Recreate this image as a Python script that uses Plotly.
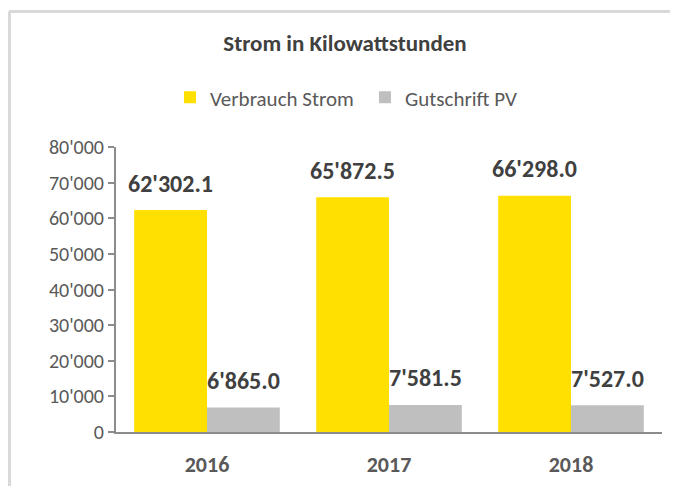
import plotly.graph_objects as go

years = ["2016", "2017", "2018"]
verbrauch = [62302.1, 65872.5, 66298.0]
gutschrift = [6865.0, 7581.5, 7527.0]
series_names = ["Verbrauch Strom", "Gutschrift PV"]
title = "Strom in Kilowattstunden"

FONT = "Carlito, Lato, sans-serif"
YELLOW = "#FFE000"
GRAY = "#BFBFBF"

# figure sized to fit the page without scrollbars (the page body has an 8px margin)
W, H = 662, 478
L, R, T, B = 108, 8, 139, 50
PW, PH = W - L - R, H - T - B

fig = go.Figure()
fig.add_trace(go.Bar(x=years, y=verbrauch, name=series_names[0], marker_color=YELLOW, marker_line_width=0))
fig.add_trace(go.Bar(x=years, y=gutschrift, name=series_names[1], marker_color=GRAY, marker_line_width=0))

def fmt(v):
    return f"{v:,.1f}".replace(",", "'")

annotations = []
for vals, xs in ((verbrauch, -0.2), (gutschrift, 0.2)):
    for i, v in enumerate(vals):
        annotations.append(dict(x=i + xs, y=v, xref="x", yref="y", text=fmt(v), showarrow=False,
                                yshift=27, yanchor="middle",
                                font=dict(family=FONT, size=24, color="#404040", weight="bold")))

fig.update_layout(
    width=W, height=H,
    margin=dict(l=L, r=R, t=T, b=B),
    paper_bgcolor="white", plot_bgcolor="white",
    separators=".'",
    barmode="group", bargap=0.2, bargroupgap=0,
    title=dict(text="<b>" + title + "</b>", x=337 / W, xanchor="center", y=1 - 35 / H, yanchor="middle",
               font=dict(family=FONT, size=23, color="#404040")),
    legend=dict(orientation="h", x=0.456, xanchor="center", y=1.173, yanchor="middle",
                font=dict(family=FONT, size=21, color="#595959"), itemwidth=30, traceorder="normal",
                entrywidth=150),
    annotations=annotations,
    showlegend=True,
)
fig.update_yaxes(range=[0, 80000], dtick=10000, tickformat=",.0f", showgrid=False, zeroline=False,
                 showline=True, linecolor="#8C8C8C", linewidth=2, ticks="outside", ticklen=6,
                 tickcolor="#8C8C8C", tickwidth=2,
                 tickfont=dict(family=FONT, size=20, color="#595959"))
fig.update_xaxes(type="category", range=[-0.5, 2.5], showline=True, linecolor="#8C8C8C", linewidth=2,
                 showgrid=False,
                 tickfont=dict(family=FONT, size=22, color="#595959", weight="bold"), ticklabelstandoff=12)

# frame lines (top and left) as in the cropped screenshot
top = (T + PH - 1.5) / PH
fig.add_shape(type="line", xref="paper", yref="paper", x0=(1 - L) / PW, x1=(W + 10 - L) / PW,
              y0=top, y1=top, line=dict(color="#D9D9D9", width=3))
fig.add_shape(type="line", xref="paper", yref="paper", x0=(1.5 - L) / PW, x1=(1.5 - L) / PW,
              y0=top, y1=-(B + 10) / PH, line=dict(color="#D9D9D9", width=3))

fig.write_html("out.html")
